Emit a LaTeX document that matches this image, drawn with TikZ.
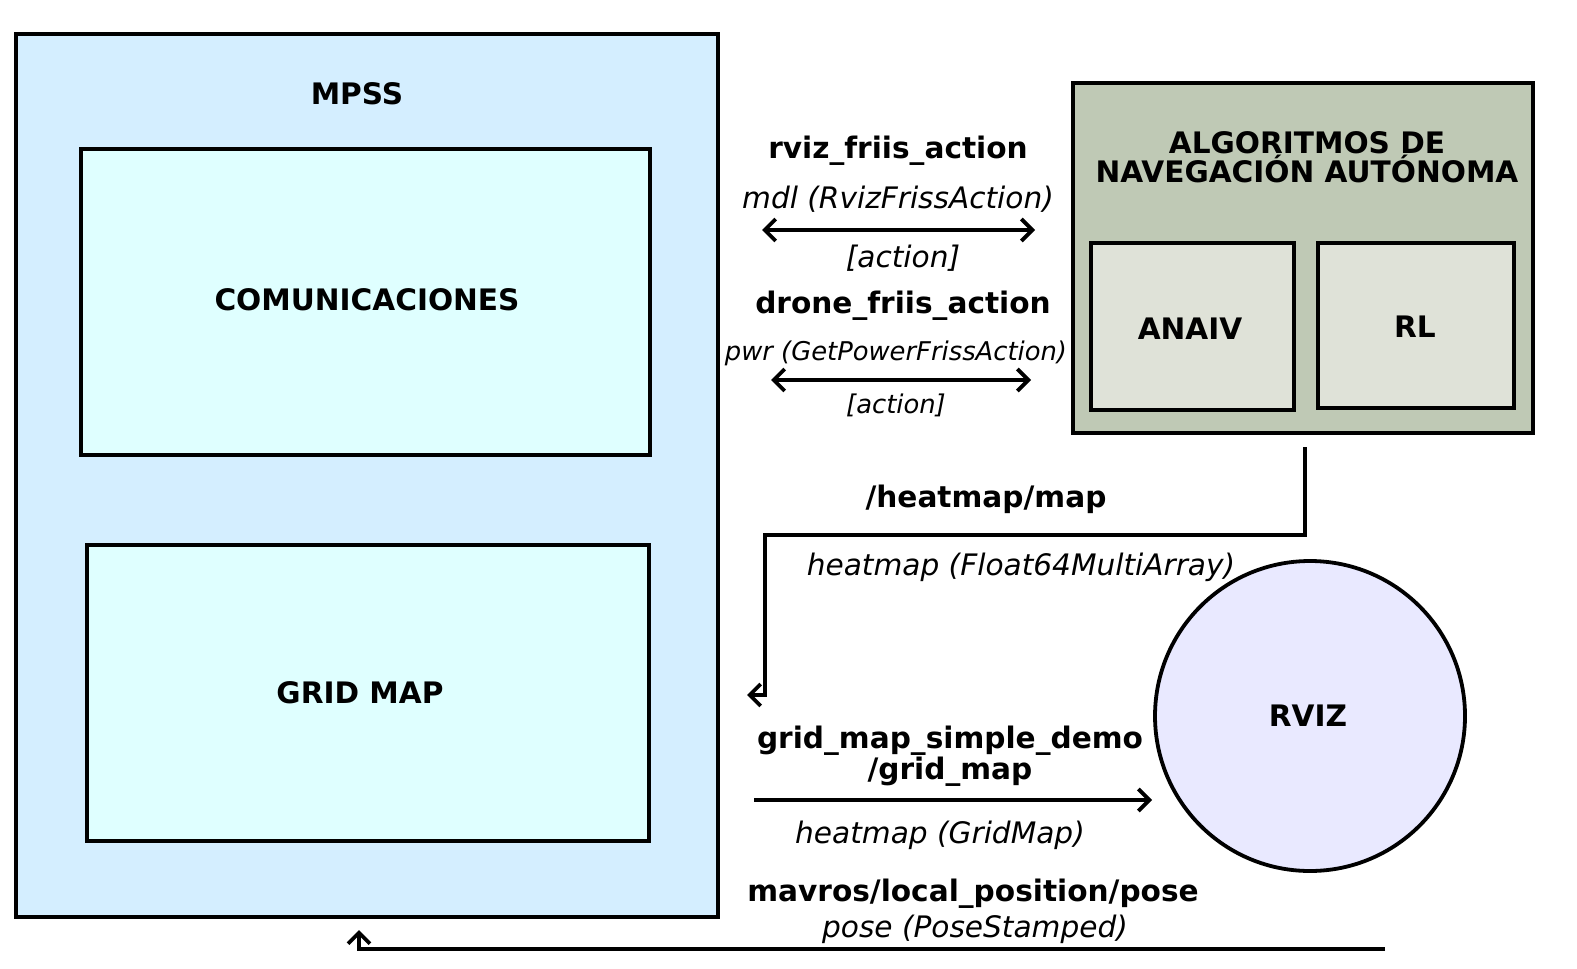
\documentclass[tikz,border=0pt]{standalone}
\usepackage{fontspec}
\setmainfont{DejaVu Sans}
\usetikzlibrary{arrows.meta}
\definecolor{mpssfill}{HTML}{D4EEFF}
\definecolor{comfill}{HTML}{DFFFFF}
\definecolor{algfill}{HTML}{BFC9B5}
\definecolor{subfill}{HTML}{DFE2D8}
\definecolor{rvizfill}{HTML}{E9E9FF}
\begin{document}
\begin{tikzpicture}[x=0.5pt,y=-0.5pt,
  box/.style={draw=black, line width=1.9pt, inner sep=0pt, outer sep=0pt},
  lbl/.style={inner sep=0pt, align=center, font=\fontsize{14.8}{14.6}\selectfont\bfseries},
  itl/.style={inner sep=0pt, font=\fontsize{14.8}{14.6}\selectfont\itshape},
  itsm/.style={inner sep=0pt, font=\fontsize{12.9}{13}\selectfont\itshape},
  tip/.tip={Straight Barb[length=5.5pt,width=11pt]},
  conn/.style={line width=1.9pt, -tip},
  dconn/.style={line width=1.9pt, tip-tip}]
\useasboundingbox (0,0) rectangle (1577,968);

% boxes
\node[box, fill=mpssfill, minimum width=351pt, minimum height=441.5pt] (mpss) at (367,475.5) {};
\node[lbl] (mpsslbl) at (357,94) {MPSS};
\node[box, fill=comfill, minimum width=284.5pt, minimum height=153pt] (com) at (365.5,302) {};
\node[lbl] (comlbl) at (367,300) {COMUNICACIONES};
\node[box, fill=comfill, minimum width=281pt, minimum height=148pt] (grid) at (368,693) {};
\node[lbl] (gridlbl) at (360,693) {GRID MAP};

\node[box, fill=algfill, minimum width=230pt, minimum height=175pt] (alg) at (1303,258) {};
\node[lbl] (alglbl) at (1307,157) {ALGORITMOS DE\\NAVEGACIÓN AUTÓNOMA};
\node[box, fill=subfill, minimum width=101.5pt, minimum height=83.5pt] (anaiv) at (1192.5,326.5) {};
\node[lbl] (anaivlbl) at (1190,329) {ANAIV};
\node[box, fill=subfill, minimum width=98pt, minimum height=82.5pt] (rl) at (1416,325.5) {};
\node[lbl] (rllbl) at (1415,327) {RL};

\node[box, circle, fill=rvizfill, minimum size=155pt] (rviz) at (1310,716) {};
\node[lbl] (rvizlbl) at (1308,716) {RVIZ};

% connector 1
\coordinate (a1l) at (762,230);
\coordinate (a1r) at (1035,230);
\draw[dconn] (a1l) -- (a1r);
\node[lbl] (a1t) at (898,151) {rviz\_friis\_action};
\node[itl] (a1m) at (898,199) {mdl (RvizFrissAction)};
\node[itl] (a1b) at (903,258) {[action]};

% connector 2
\coordinate (a2l) at (771,380);
\coordinate (a2r) at (1031,380);
\draw[dconn] (a2l) -- (a2r);
\node[lbl] (a2t) at (903,306) {drone\_friis\_action};
\node[itsm] (a2m) at (896,353) {pwr (GetPowerFrissAction)};
\node[itsm] (a2b) at (896,405) {[action]};

% heatmap connector
\coordinate (hs) at (1305,447);
\coordinate (hc) at (765,535);
\coordinate (he) at (747,695);
\draw[conn] (hs) |- (hc) |- (he);
\node[lbl] (ht) at (986,499) {/heatmap/map};
\node[itl] (hb) at (1021,567) {heatmap (Float64MultiArray)};

% grid map connector
\coordinate (gs) at (754,800);
\coordinate (ge) at (1152,800);
\draw[conn] (gs) -- (ge);
\node[lbl] (gt) at (950,756) {grid\_map\_simple\_demo\\/grid\_map};
\node[itl] (gb) at (940,835) {heatmap (GridMap)};

% mavros connector
\coordinate (ms) at (1385,949);
\coordinate (me) at (359,930);
\draw[conn] (ms) -| (me);
\node[lbl] (mt) at (973,894) {mavros/local\_position/pose};
\node[itl] (mb) at (975,929) {pose (PoseStamped)};
\end{tikzpicture}
\end{document}
